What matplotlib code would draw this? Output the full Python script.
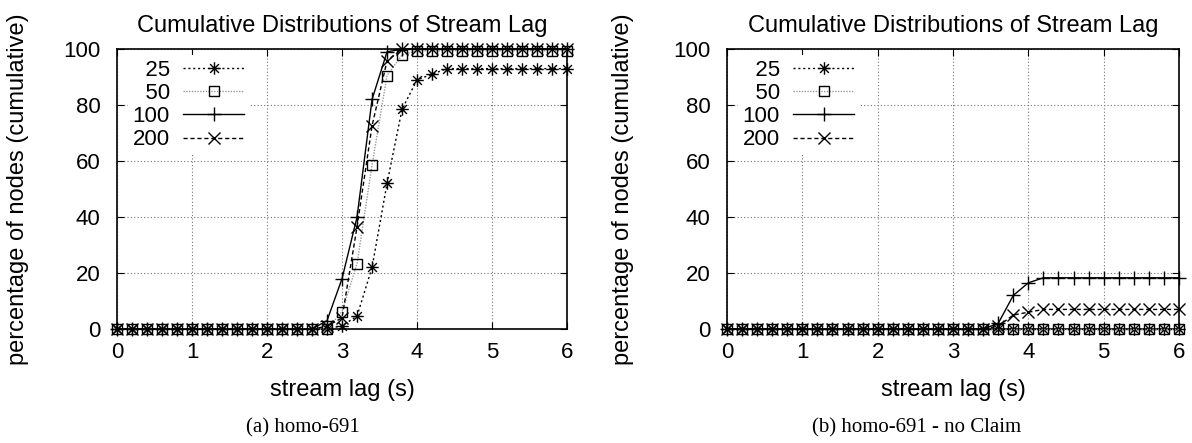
import matplotlib
matplotlib.use("Agg")
import matplotlib.pyplot as plt
from matplotlib.path import Path

plt.rcParams["font.family"] = ["Liberation Sans", "DejaVu Sans"]
plt.rcParams["font.size"] = 16

lag = [0.0, 0.2, 0.4, 0.6, 0.8, 1.0, 1.2, 1.4, 1.6, 1.8, 2.0, 2.2, 2.4, 2.6, 2.8,
       3.0, 3.2, 3.4, 3.6, 3.8, 4.0, 4.2, 4.4, 4.6, 4.8, 5.0, 5.2, 5.4, 5.6, 5.8, 6.0]

labels = ["25", "50", "100", "200"]

# (a) homo-691
a_25 = [0, 0, 0, 0, 0, 0, 0, 0, 0, 0, 0, 0, 0, 0, 0,
        1.2, 4.6, 22, 52, 78.5, 89, 91, 93, 93, 93, 93, 93, 93, 93, 93, 93]
a_50 = [0, 0, 0, 0, 0, 0, 0, 0, 0, 0, 0, 0, 0, 0, 0,
        6.2, 23.4, 58.6, 90.5, 97.9, 99.4, 99.4, 99.4, 99.4, 99.4, 99.4, 99.4, 99.4, 99.4, 99.4, 99.4]
a_100 = [0, 0, 0, 0, 0, 0, 0, 0, 0, 0, 0, 0, 0, 0, 3,
         18, 40, 82, 99, 100, 100, 100, 100, 100, 100, 100, 100, 100, 100, 100, 100]
a_200 = [0, 0, 0, 0, 0, 0, 0, 0, 0, 0, 0, 0, 0, 0, 1,
         4, 36.5, 72.6, 95.8, 100, 100, 100, 100, 100, 100, 100, 100, 100, 100, 100, 100]

# (b) homo-691 - no Claim
b_25 = [0, 0, 0, 0, 0, 0, 0, 0, 0, 0, 0, 0, 0, 0, 0,
        0, 0, 0, 0, 0, 0, 0, 0, 0, 0, 0, 0, 0, 0, 0, 0]
b_50 = [0, 0, 0, 0, 0, 0, 0, 0, 0, 0, 0, 0, 0, 0, 0,
        0, 0, 0, 0, 0, 0, 0, 0, 0, 0, 0, 0, 0, 0, 0, 0]
b_100 = [0, 0, 0, 0, 0, 0, 0, 0, 0, 0, 0, 0, 0, 0, 0,
         0, 0, 0, 2, 12, 16.5, 18.3, 18.3, 18.3, 18.3, 18.3, 18.3, 18.3, 18.3, 18.3, 18.3]
b_200 = [0, 0, 0, 0, 0, 0, 0, 0, 0, 0, 0, 0, 0, 0, 0,
         0, 0, 0, 1, 5, 6, 7, 7, 7, 7, 7, 7, 7, 7, 7, 7]

# gnuplot style asterisk: + and x together
asterisk = Path(
    [(-1, 0), (1, 0), (0, -1), (0, 1), (-0.7, -0.7), (0.7, 0.7), (-0.7, 0.7), (0.7, -0.7)],
    [Path.MOVETO, Path.LINETO] * 4,
)

styles = [
    dict(color="black", linestyle=(0, (1.5, 2)), marker=asterisk, markersize=9),
    dict(color="0.6", linestyle=(0, (1, 1)), marker="s", markersize=7,
         markeredgecolor="black", markerfacecolor="none"),
    dict(color="black", linestyle="-", marker="+", markersize=10),
    dict(color="black", linestyle=(0, (3, 2)), marker="x", markersize=8),
]


def draw_panel(ax, series, ylabel_x):
    for values, label, style in zip(series, labels, styles):
        ax.plot(lag, values, lw=1, label=label.rjust(3, "\u2007"),
                clip_on=False, markeredgewidth=1, zorder=3, **style)

    ax.set_xlim(0, 6)
    ax.set_ylim(0, 100)
    ax.set_xticks(range(0, 7))
    ax.set_yticks(range(0, 101, 20))
    ax.tick_params(direction="in", length=5, top=True, right=True)
    ax.tick_params(axis="x", pad=9)
    ax.tick_params(axis="y", pad=12)
    ax.grid(True, color="0.45", linestyle=(0, (1, 2)), lw=0.8)
    for spine in ax.spines.values():
        spine.set_linewidth(1.2)

    ax.set_title("Cumulative Distributions of Stream Lag", pad=12, fontsize=17)
    ax.set_xlabel("stream lag (s)", labelpad=12, fontsize=17)
    ax.set_ylabel("percentage of nodes (cumulative)", fontsize=17)
    ax.yaxis.set_label_coords(ylabel_x, 0.5)

    leg = ax.legend(loc="upper left", bbox_to_anchor=(0.025, 0.978),
                    markerfirst=False, handlelength=2.75,
                    labelspacing=0.1, borderpad=0.2, borderaxespad=0,
                    handletextpad=0.6, frameon=True, fancybox=False,
                    framealpha=1, edgecolor="none", facecolor="white")
    leg.set_zorder(5)


fig = plt.figure(figsize=(11.92, 4.43), dpi=100)
ax_a = fig.add_axes([0.0982, 0.2573, 0.3775, 0.632])
ax_b = fig.add_axes([0.6099, 0.2573, 0.3792, 0.632])

draw_panel(ax_a, [a_25, a_50, a_100, a_200], -0.196)
draw_panel(ax_b, [b_25, b_50, b_100, b_200], -0.206)

fig.text(303 / 1192, 1 - 428 / 443, "(a) homo-691", ha="center", va="center",
         family=["Liberation Serif", "DejaVu Serif"], fontsize=15)
fig.text(917 / 1192, 1 - 428 / 443, "(b) homo-691 - no Claim", ha="center", va="center",
         family=["Liberation Serif", "DejaVu Serif"], fontsize=15)

fig.savefig("out.png", dpi=100)
